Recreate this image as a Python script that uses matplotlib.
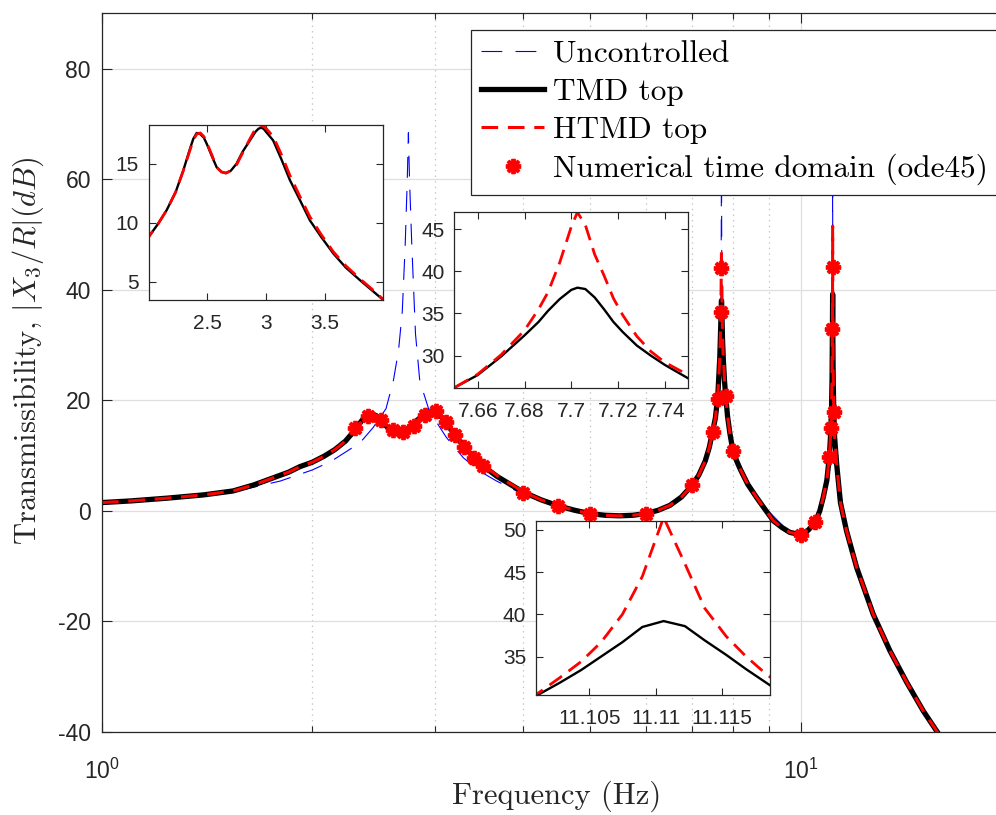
import matplotlib
matplotlib.use('Agg')
import matplotlib.pyplot as plt
from matplotlib.ticker import LogLocator, NullLocator, NullFormatter

plt.rcParams['font.family'] = ['Liberation Sans', 'DejaVu Sans']
plt.rcParams['mathtext.fontset'] = 'cm'
plt.rcParams['axes.unicode_minus'] = False
plt.rcParams['lines.scale_dashes'] = False

# ---------------- data ----------------
f_tmd = [1.0, 1.1, 1.24, 1.4, 1.54, 1.65, 1.76, 1.85, 1.92, 2.0, 2.08, 2.153, 2.23,
         2.295, 2.35, 2.38, 2.409, 2.44, 2.47, 2.494, 2.54, 2.579, 2.62, 2.658, 2.70,
         2.749, 2.80, 2.863, 2.91, 2.935, 2.957, 2.98, 3.0, 3.061, 3.13, 3.204, 3.29,
         3.374, 3.47, 3.573, 3.68, 3.8, 3.9, 4.0, 4.25, 4.5, 4.75, 5.0, 5.25, 5.5,
         5.75, 6.0, 6.25, 6.5, 6.75, 7.0, 7.15, 7.3, 7.4, 7.48, 7.55, 7.61, 7.65,
         7.66, 7.67, 7.68, 7.686, 7.69, 7.695, 7.7, 7.7026, 7.706, 7.71, 7.714,
         7.718, 7.722, 7.728, 7.734, 7.74, 7.75, 7.78, 7.81, 7.86, 7.92, 8.0, 8.1,
         8.19, 8.4, 8.65, 8.9, 9.14, 9.4, 9.65, 10.0, 10.25, 10.49, 10.65, 10.77,
         10.9, 10.99, 11.04, 11.07, 11.09, 11.1012, 11.1028, 11.1044, 11.1059,
         11.1075, 11.1090, 11.1106, 11.1122, 11.1137, 11.1153, 11.1168, 11.1184,
         11.12, 11.13, 11.15, 11.18, 11.26, 11.4, 11.63, 12.03, 12.7, 13.42, 14.18,
         14.98, 15.65, 16.5]
db_tmd = [1.5, 1.8, 2.3, 2.9, 3.6, 4.7, 6.0, 7.0, 8.0, 8.8, 9.9, 11.06, 12.6,
          14.43, 16.2, 17.1, 17.6, 17.5, 17.2, 16.7, 15.6, 14.7, 14.3, 14.2, 14.4,
          15.0, 16.0, 16.97, 17.7, 17.95, 18.05, 17.95, 17.7, 16.97, 15.4, 13.6, 11.9,
          10.2, 8.8, 7.4, 6.2, 5.14, 4.3, 3.45, 2.0, 0.9, 0.1, -0.5, -0.8, -0.9,
          -0.8, -0.5, 0.1, 1.0, 2.5, 4.7, 6.5, 9.0, 11.5, 14.3, 16.8, 20.8, 26.2,
          27.7, 29.9, 32.4, 34.0, 35.3, 36.7, 37.8, 38.06, 37.9, 36.9, 35.5,
          34.0, 32.8, 31.2, 30.0, 28.9, 27.3, 23.5, 20.8, 17.0, 14.0, 10.8, 9.0,
          7.6, 4.8, 2.4, 0.2, -1.8, -3.0, -3.9, -4.3, -3.5, -2.1, 0.0, 2.4,
          5.5, 9.8, 14.0, 18.5, 24.0, 30.5, 31.9, 33.4, 35.0,
          36.7, 38.5, 39.2, 38.6, 36.9, 35.2, 33.5, 31.8,
          30.1, 24.5, 18.5, 13.5, 8.4, 1.5, -3.6, -10.3, -18.7, -25.3, -31.0,
          -36.2, -39.8, -44.0]

f_htmd = f_tmd
db_htmd = [1.5, 1.8, 2.3, 2.9, 3.6, 4.7, 6.0, 7.0, 8.0, 8.8, 9.9, 11.06, 12.6,
           14.4, 16.1, 17.0, 17.5, 17.6, 17.3, 16.8, 15.7, 14.7, 14.3, 14.2, 14.4,
           14.9, 15.9, 17.1, 17.95, 18.25, 18.25, 18.15, 18.0, 17.3, 15.8, 14.0, 12.2,
           10.5, 9.0, 7.55, 6.35, 5.25, 4.4, 3.5, 2.0, 0.9, 0.1, -0.5, -0.8, -0.9,
           -0.8, -0.5, 0.1, 1.0, 2.5, 4.7, 6.5, 9.0, 11.5, 14.3, 16.8, 20.9, 26.2,
           27.8, 30.1, 33.0, 35.5, 37.5, 41.0, 45.3, 47.0, 45.5, 42.0, 39.5,
           36.8, 34.8, 32.3, 30.5, 29.2, 27.7, 23.8, 21.0, 17.1, 14.0, 10.8, 9.0,
           7.6, 4.8, 2.4, 0.2, -1.8, -3.0, -3.9, -4.3, -3.5, -2.1, 0.0, 2.4,
           5.5, 9.8, 14.2, 18.8, 24.6, 30.7, 32.5, 34.4, 36.7,
           40.0, 44.5, 51.5, 46.0, 40.7, 37.4, 35.0, 32.8,
           31.0, 25.0, 18.8, 13.6, 8.4, 1.5, -3.6, -10.3, -18.7, -25.3, -31.0,
           -36.2, -39.8, -44.0]

f_unc = [1.0, 1.2, 1.4, 1.6, 1.8, 2.0, 2.13, 2.34, 2.445, 2.55, 2.612, 2.657, 2.69,
         2.716, 2.735, 2.745, 2.755, 2.776, 2.81, 2.85, 2.94, 3.11, 3.29, 3.47,
         3.67, 3.92, 4.3, 5.0, 5.5, 6.0, 6.5, 7.0, 7.3, 7.5, 7.6, 7.65, 7.68,
         7.693, 7.699, 7.7026, 7.706, 7.712, 7.725, 7.75, 7.8, 7.9, 8.0, 8.4,
         9.0, 9.65, 10.0, 10.5, 10.77, 11.0, 11.07, 11.1, 11.106, 11.109, 11.1106,
         11.112, 11.115, 11.12, 11.15, 11.26, 11.63, 12.03, 12.7, 13.42, 14.18,
         14.98, 15.65, 16.5]
db_unc = [1.3, 2.0, 2.8, 3.9, 5.4, 7.4, 9.0, 12.3, 15.1, 18.5, 23.5, 29.0, 36.0,
          48.0, 60.0, 68.4, 60.0, 48.0, 32.0, 23.5, 18.1, 13.3, 9.6, 7.2,
          5.4, 3.6, 1.8, -0.6, -1.0, -0.6, 0.9, 4.6, 8.9, 15.0, 20.5, 26.0, 32.0,
          40.0, 55.0, 85.0, 55.0, 40.0, 32.0, 27.0, 21.5, 15.5, 10.7, 4.7,
          -0.1, -4.0, -4.4, -2.3, 2.3, 9.6, 18.3, 30.0, 40.0, 55.0, 85.0,
          55.0, 40.0, 31.0, 18.5, 8.3, -3.7, -10.4, -18.8, -25.4, -31.1,
          -36.3, -39.9, -44.1]

f_num = [2.30, 2.40, 2.51, 2.61, 2.70, 2.80, 2.90, 3.01, 3.11, 3.20, 3.30, 3.41,
         3.51, 4.01, 4.50, 4.99, 6.0, 7.0, 7.48, 7.61, 7.686, 7.699, 7.81, 7.99,
         10.01, 10.49, 10.99, 11.04, 11.103, 11.109, 11.16]
db_num = [14.9, 17.2, 16.4, 14.6, 14.2, 15.4, 17.3, 18.1, 16.1, 13.7, 11.6, 9.6,
          8.1, 3.3, 0.9, -0.5, -0.5, 4.7, 14.3, 20.2, 35.9, 44.0, 20.8, 10.8,
          -4.3, -2.1, 9.8, 14.9, 32.9, 44.2, 17.8]

labels = ['Uncontrolled', 'TMD top', 'HTMD top', 'Numerical time domain (ode45)']
xtick_labels = [r'$\mathregular{10^{0}}$', r'$\mathregular{10^{1}}$']

# ---------------- figure ----------------
W, H = 996, 815
fig = plt.figure(figsize=(W / 100, H / 100), dpi=100)
fig.patch.set_facecolor('white')


def px_axes(x0, y0, x1, y1):
    return fig.add_axes([x0 / W, 1 - y1 / H, (x1 - x0) / W, (y1 - y0) / H])


ax = px_axes(102, 13.3, 1011, 732)
TXT = '#262626'
red_dash = (0, (12, 7))
blue_dash = (0, (15, 9.5))

ax.plot(f_unc, db_unc, color='blue', lw=0.8, ls=blue_dash, label=labels[0])
ax.plot(f_tmd, db_tmd, color='black', lw=3.8, label=labels[1])
ax.plot(f_htmd, db_htmd, color='red', lw=2.2, ls=red_dash, label=labels[2])
ax.plot(f_num, db_num, ls='none', marker=(8, 2, 0), ms=11, mew=2.8,
        color='red', label=labels[3])

ax.set_xscale('log')
ax.set_xlim(1, 20)
ax.set_ylim(-40, 90)
ax.xaxis.set_major_locator(plt.FixedLocator([1, 10]))
ax.xaxis.set_major_formatter(plt.FixedFormatter(xtick_labels))
ax.xaxis.set_minor_locator(LogLocator(base=10, subs=[2, 3, 4, 5, 6, 7, 8, 9]))
ax.xaxis.set_minor_formatter(NullFormatter())
ax.set_yticks([-40, -20, 0, 20, 40, 60, 80])
ax.yaxis.set_minor_locator(NullLocator())
ax.grid(which='major', color='#dfdfdf', lw=0.9, ls='-')
ax.grid(which='minor', axis='x', color='#c4c4c4', lw=0.9, ls=(0, (1, 3)))
ax.set_axisbelow(True)
ax.tick_params(which='both', direction='in', top=True, right=True,
               colors=TXT, labelsize=16.5, width=0.8)
ax.tick_params(which='major', length=7)
ax.tick_params(which='minor', length=4)
ax.tick_params(axis='y', which='major', pad=8)
ax.tick_params(axis='x', which='both', pad=19)
for s in ax.spines.values():
    s.set_color(TXT)
    s.set_linewidth(0.9)

ax.set_xlabel('Frequency (Hz)', fontfamily='cmr10', fontsize=22, color=TXT)
ax.xaxis.set_label_coords(0.5, -0.068)
ax.set_ylabel(r'Transmissibility, $|X_3/R|(dB)$', fontfamily='cmr10',
              fontsize=22, color=TXT)
ax.yaxis.set_label_coords(-0.062, 0.531)

leg = ax.legend(loc='upper left', bbox_to_anchor=(471 / W, 1 - 30 / H),
                bbox_transform=fig.transFigure, borderaxespad=0,
                prop={'family': 'cmr10', 'size': 22.5}, frameon=True,
                fancybox=False, framealpha=1, edgecolor=TXT, numpoints=1,
                handlelength=2.0, handletextpad=0.3, borderpad=0.33,
                labelspacing=0.31)
leg.get_frame().set_linewidth(0.9)
leg.set_zorder(10)


def style_inset(a):
    a.tick_params(which='both', direction='in', top=True, right=True,
                  colors=TXT, labelsize=15, width=0.8, length=5, pad=7)
    a.tick_params(axis='x', pad=10)
    for s in a.spines.values():
        s.set_color(TXT)
        s.set_linewidth(0.9)
    a.yaxis.set_minor_locator(NullLocator())
    a.xaxis.set_minor_locator(NullLocator())


inset_dash = (0, (11, 6))

a1 = px_axes(148.7, 124.7, 383.3, 300)
a1.plot(f_tmd, db_tmd, color='black', lw=1.7)
a1.plot(f_htmd, db_htmd, color='red', lw=2.0, ls=inset_dash)
a1.set_xlim(2.0, 4.0)
a1.set_ylim(3.45, 18.3)
a1.set_xticks([2.5, 3.0, 3.5])
a1.set_xticklabels(['2.5', '3', '3.5'])
a1.set_yticks([5, 10, 15])
style_inset(a1)

a2 = px_axes(454.3, 212.3, 688.3, 387.7)
a2.plot(f_tmd, db_tmd, color='black', lw=1.7)
a2.plot(f_htmd, db_htmd, color='red', lw=2.0, ls=inset_dash)
a2.set_xlim(7.65, 7.75)
a2.set_ylim(26.2, 47.0)
a2.set_xticks([7.66, 7.68, 7.70, 7.72, 7.74])
a2.set_xticklabels(['7.66', '7.68', '7.7', '7.72', '7.74'])
a2.set_yticks([30, 35, 40, 45])
style_inset(a2)

a3 = px_axes(536, 520.7, 770, 695.3)
a3.plot(f_tmd, db_tmd, color='black', lw=1.7)
a3.plot(f_htmd, db_htmd, color='red', lw=2.0, ls=inset_dash)
a3.set_xlim(11.101, 11.1186)
a3.set_ylim(30.4, 51.1)
a3.set_xticks([11.105, 11.11, 11.115])
a3.set_xticklabels(['11.105', '11.11', '11.115'])
a3.set_yticks([35, 40, 45, 50])
style_inset(a3)

fig.savefig('out.png', dpi=100, facecolor='white')
